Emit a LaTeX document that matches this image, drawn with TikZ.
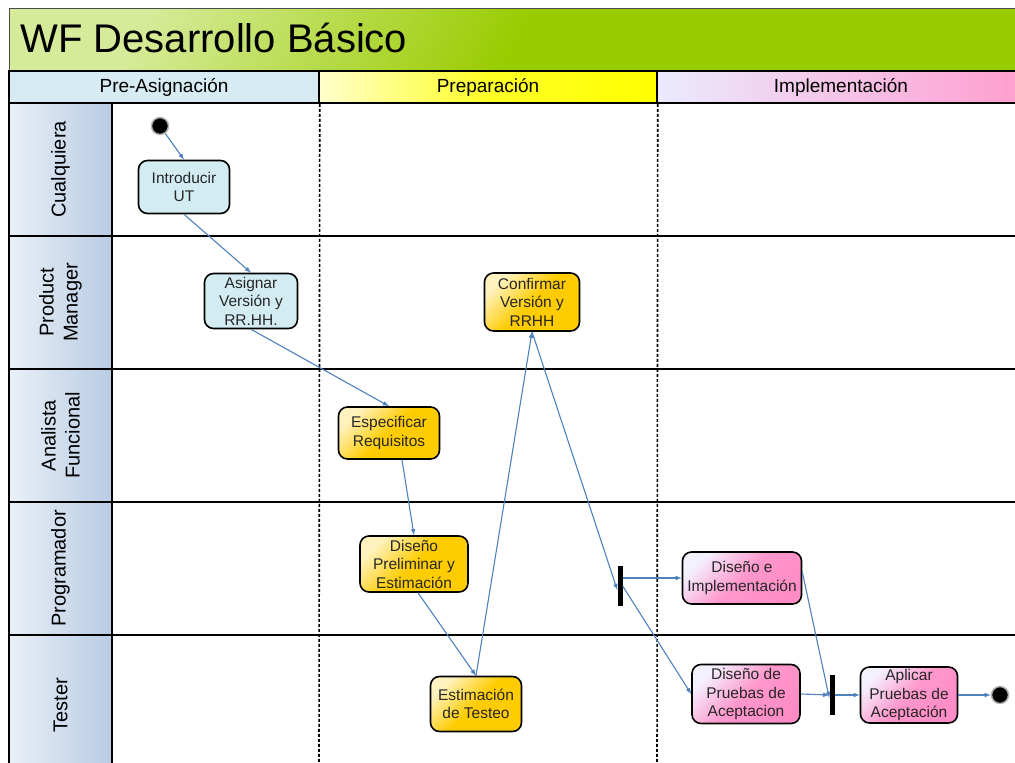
\documentclass[tikz,border=0pt]{standalone}
\usepackage{fontspec}
\setmainfont{Liberation Sans}
\usepackage{tikz}
\usetikzlibrary{positioning}

\definecolor{verdetit}{HTML}{99CC00}
\definecolor{azulfase}{HTML}{D6ECF2}
\definecolor{azulcarril}{HTML}{B8CCE4}
\definecolor{azulnodo}{HTML}{D3ECF2}
\definecolor{amarillonodo}{HTML}{FFCC00}
\definecolor{rosanodo}{HTML}{FF8CC6}
\definecolor{flecha}{HTML}{4F81BD}

\begin{document}
\begin{tikzpicture}[x=1pt,y=-1pt,>=latex,
    fase/.style={draw=black, line width=1.5pt, minimum height=32pt, inner sep=0pt, font=\fontsize{19}{22}\selectfont},
    carril/.style={draw=black, line width=1.5pt, rotate=90, minimum height=103pt, inner sep=0pt, align=center,
      left color=azulcarril!30!white, right color=azulcarril, font=\fontsize{20}{24}\selectfont},
    actividad/.style={draw=black, line width=1.6pt, rounded corners=9pt, align=center, inner sep=1pt,
      text=black!85, font=\fontsize{15.5}{18.5}\selectfont},
    azul/.style={actividad, fill=azulnodo},
    amarillo/.style={actividad, top color=amarillonodo!25!white, bottom color=amarillonodo,
      middle color=amarillonodo, shading angle=45},
    rosa/.style={actividad, top color=rosanodo!20!blue!6!white, bottom color=rosanodo,
      middle color=rosanodo!90!white, shading angle=45},
    estado/.style={circle, fill=black, draw=gray!60, line width=1.5pt, minimum size=17pt, inner sep=0pt},
    barra/.style={fill=black, minimum width=5pt, minimum height=40pt, inner sep=0pt},
    paso/.style={->, draw=flecha, line width=1.1pt}]
  \useasboundingbox (0,0) rectangle (1015,763);

  % titulo
  \draw[gray!60!black, top color=verdetit!40!white, bottom color=verdetit, middle color=verdetit,
    shading angle=60] (9,8) rectangle (1025,71);
  \node[anchor=base west, font=\fontsize{40}{44}\selectfont] (titulo) at (17,52) {WF Desarrollo Básico};

  % fases
  \node[fase, fill=azulfase, minimum width=310pt] (preasig) at (164,87) {Pre-Asignación};
  \node[fase, left color=yellow!20!white, right color=yellow, middle color=yellow!85!white,
    minimum width=338pt] (prepar) at (488,87) {Preparación};
  \node[fase, left color=blue!8!white, right color=rosanodo!85!white, minimum width=368pt] (implem) at (841,87) {Implementación};

  % carriles
  \node[carril, minimum width=133pt] (cualq) at (60.5,169.5) {Cualquiera};
  \node[carril, minimum width=133pt] (pm) at (60.5,302.5) {Product\\Manager};
  \node[carril, minimum width=133pt] (af) at (60.5,435.5) {Analista\\Funcional};
  \node[carril, minimum width=133pt] (prog) at (60.5,568.5) {Programador};
  \node[carril, minimum width=140pt] (tester) at (60.5,705) {Tester};
  \foreach \y in {103,236,369,502,635}
    \draw[line width=1.6pt] (9,\y) -- (1025,\y);
  \draw[line width=1.6pt, dash pattern=on 3pt off 2pt] (preasig.south east) -- (319,770);
  \draw[line width=1.6pt, dash pattern=on 3pt off 2pt] (prepar.south east) -- (657,770);

  % actividades
  \node[estado] (inicio) at (160,126) {};
  \node[azul, minimum width=91pt, minimum height=53pt] (intro) at (184,187) {Introducir\\UT};
  \node[azul, minimum width=93pt, minimum height=55pt] (asignar) at (251,301) {Asignar\\Versión y\\RR.HH.};
  \node[amarillo, minimum width=95pt, minimum height=58pt] (confirmar) at (532,302) {Confirmar\\Versión y\\RRHH};
  \node[amarillo, minimum width=101pt, minimum height=52pt] (especificar) at (389,433) {Especificar\\Requisitos};
  \node[amarillo, minimum width=108pt, minimum height=56pt] (disenoPre) at (414,564) {Diseño\\Preliminar y\\Estimación};
  \node[amarillo, minimum width=91pt, minimum height=55pt] (estTest) at (476,704) {Estimación\\de Testeo};
  \node[barra] (bifur) at (620,586) {};
  \node[rosa, minimum width=119pt, minimum height=52pt] (disenoImpl) at (742,578) {Diseño e\\Implementación};
  \node[rosa, minimum width=108pt, minimum height=59pt] (disenoPru) at (746,694) {Diseño de\\Pruebas de\\Aceptacion};
  \node[barra] (union) at (832,695) {};
  \node[rosa, minimum width=97pt, minimum height=56pt] (aplicar) at (909,695) {Aplicar\\Pruebas de\\Aceptación};
  \node[estado] (fin) at (1000,695) {};

  % transiciones
  \draw[paso] (inicio) -- (intro.north);
  \draw[paso] (intro.south) -- (asignar.north);
  \draw[paso] (asignar.south) -- (especificar.north);
  \draw[paso] ([xshift=13pt]especificar.south) -- (disenoPre.north);
  \draw[paso] ([xshift=4pt]disenoPre.south) -- (estTest.north);
  \draw[paso] (estTest.north) -- (confirmar.south);
  \draw[paso] (confirmar.south) -- ([yshift=-4pt]bifur.west);
  \draw[paso] (bifur.east |- disenoImpl.west) -- (disenoImpl.west);
  \draw[paso] (bifur.east) -- (disenoPru.west);
  \draw[paso] ([yshift=6pt]disenoImpl.east) -- ([yshift=-3pt]union.west);
  \draw[paso] (disenoPru.east) -- (union.west);
  \draw[paso] (union.east) -- (aplicar.west);
  \draw[paso] (aplicar.east) -- (fin.west);
\end{tikzpicture}
\end{document}
